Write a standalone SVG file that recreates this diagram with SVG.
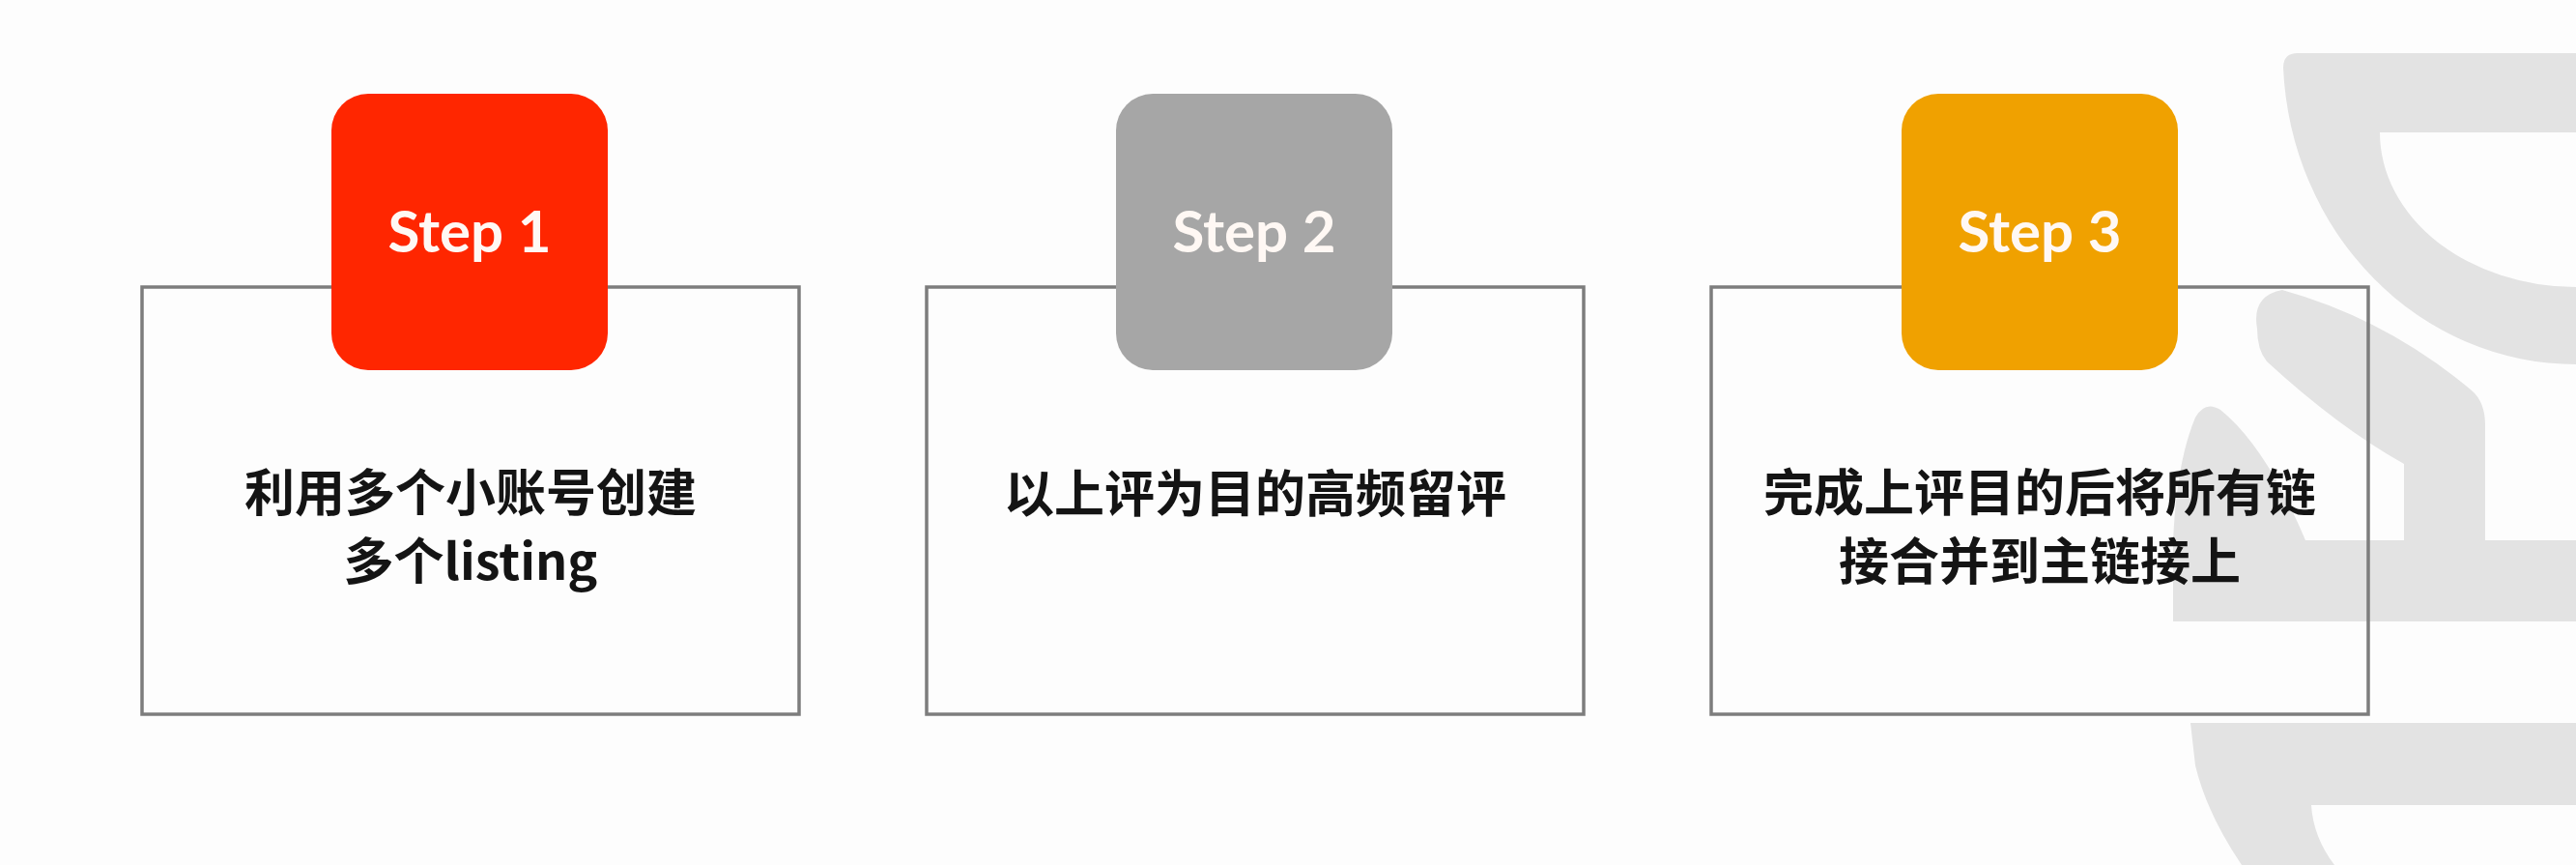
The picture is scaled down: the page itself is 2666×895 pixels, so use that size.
<svg xmlns="http://www.w3.org/2000/svg" width="2666" height="895" viewBox="0 0 2666 895">
<style>
.bg{fill:#fdfdfd}
.wm{fill:#e3e3e3}
.box{fill:none;stroke:#7d7d7d;stroke-width:3.5}
.tag{stroke:none}
.step{font-family:Lato,"Open Sans","Liberation Sans",sans-serif;font-weight:700;font-size:60px;fill:#fff8f4;text-anchor:middle}
.body{font-family:"Noto Sans CJK SC","Noto Sans",sans-serif;font-weight:700;font-size:52px;fill:#141414;text-anchor:middle}
</style>
<rect class="bg" x="0" y="0" width="2666" height="895"/>
<g id="watermark">
<path class="wm" d="M2378,55 H2666 V137 H2463 A203,160 0 0 0 2666,297 V377 A303,322 0 0 1 2363,70 Q2363,55 2378,55 Z"/>
<path class="wm" d="M2336,340 Q2330,306 2362,300 Q2470,330 2558,404 Q2572,416 2572,440 V600 H2488 V480 Q2420,442 2346,374 Q2336,362 2336,340 Z"/>
<path class="wm" d="M2249,643 V562 Q2252,480 2272,432 Q2282,414 2298,424 Q2345,462 2386,559 H2666 V643 Z"/>
<path class="wm" d="M2267,748 H2666 V833 H2392 Q2394,866 2416,895 H2320 Q2284,842 2272,792 Z"/>
</g>
<g id="connectors"/>
<g id="step1">
<rect class="box" x="147" y="297" width="680" height="442"/>
<rect class="tag" x="343" y="97" width="286" height="286" rx="38" fill="#ff2600"/>
<text class="step" x="486" y="261">Step 1</text>
<text class="body" x="487" y="529">利用多个小账号创建</text>
<text class="body" x="487" y="600">多个listing</text>
</g>
<g id="step2">
<rect class="box" x="959" y="297" width="680" height="442"/>
<rect class="tag" x="1155" y="97" width="286" height="286" rx="38" fill="#a6a6a6"/>
<text class="step" x="1298" y="261">Step 2</text>
<text class="body" x="1299" y="530">以上评为目的高频留评</text>
</g>
<g id="step3">
<rect class="box" x="1771" y="297" width="680" height="442"/>
<rect class="tag" x="1968" y="97" width="286" height="286" rx="38" fill="#f0a100"/>
<text class="step" x="2111" y="261">Step 3</text>
<text class="body" x="2111" y="529">完成上评目的后将所有链</text>
<text class="body" x="2111" y="600">接合并到主链接上</text>
</g>
</svg>
